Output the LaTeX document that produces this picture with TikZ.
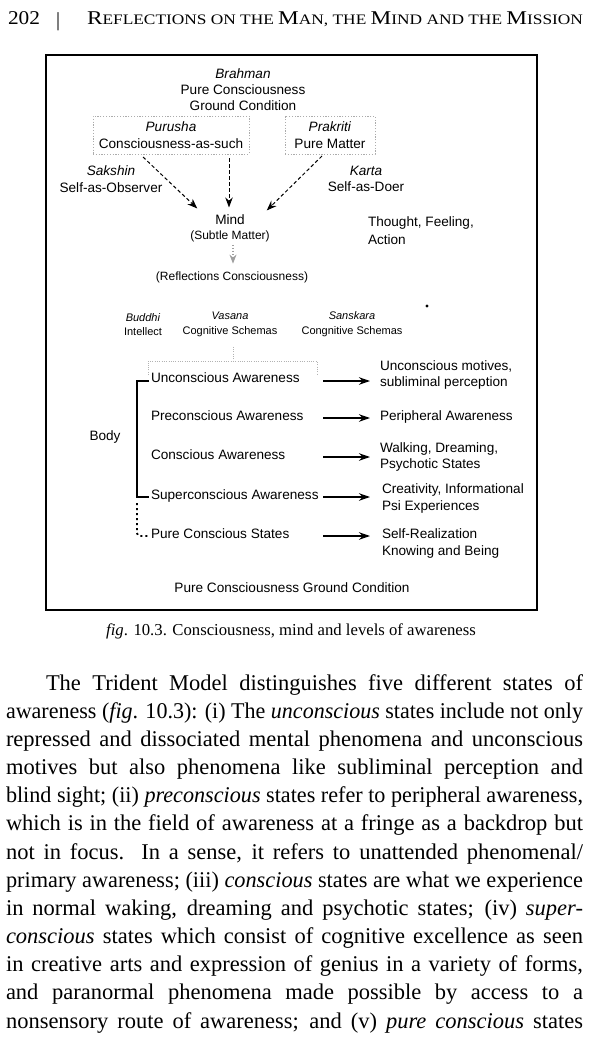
\documentclass[tikz,border=0pt]{standalone}
\usepackage{fontspec}
\usepackage{graphicx}
\setmainfont{Liberation Serif}
\setsansfont{Liberation Sans}
\usetikzlibrary{arrows.meta,calc}
\newcommand\jline[2]{\sbox0{#2}\ifdim\wd0>#1\relax\resizebox{#1}{\ht0}{\usebox0}\else\makebox[#1][s]{#2}\fi}
\newcommand\hdcap[1]{{\fontsize{19.5}{20}\selectfont #1}}
\begin{document}
\begin{tikzpicture}[x=1pt,y=-1pt,
  every node/.style={inner sep=0pt, outer sep=0pt},
  dg/.style={font=\sffamily\fontsize{13.6}{16.3}\selectfont},
  dgs/.style={font=\sffamily\fontsize{12}{14}\selectfont},
  dgt/.style={font=\sffamily\fontsize{11}{14.8}\selectfont},
  dbox/.style={draw=gray!65, dash pattern=on 1.2pt off 1.6pt, line width=0.9pt, minimum height=38pt, align=center},
  darr/.style={dash pattern=on 3.5pt off 2.5pt, line width=1pt, -{Stealth[length=10pt,width=7.5pt]}},
  rarr/.style={line width=1.3pt, -{Stealth[length=11pt,width=7.5pt]}},
  bodyline/.style={font=\fontsize{22.5}{28}\selectfont, anchor=base west},
]
\useasboundingbox (0,0) rectangle (600,1044);
\fill[white] (0,0) rectangle (600,1044);

% header
\node[anchor=base west, font=\fontsize{19.5}{22}\selectfont] (pno) at (8,24) {\resizebox{32pt}{\height}{202}};
\node[anchor=base west, font=\fontsize{20}{22}\selectfont] (bar) at (56,26) {|};
\node[anchor=base west, font=\fontsize{14.5}{18}\selectfont] (title) at (87,24)
  {\resizebox{496pt}{\height}{\hdcap{R}EFLECTIONS ON THE \hdcap{M}AN, THE \hdcap{M}IND AND THE \hdcap{M}ISSION}};

% frame
\node[draw, line width=2pt, minimum width=491pt, minimum height=555pt] (frame) at (291.5,332.5) {};

% top block
\node[dg, align=center] (brahman) at (243,89.5) {\textit{Brahman}\\Pure Consciousness\\Ground Condition};
\node[dg, dbox, minimum width=156pt] (purusha) at (171,135) {\textit{Purusha}\\Consciousness-as-such};
\node[dg, dbox, minimum width=90pt] (prakriti) at (330,135) {\textit{Prakriti}\\Pure Matter};
\node[dg, align=center] (sakshin) at (111,179) {\textit{Sakshin}\\Self-as-Observer};
\node[dg, align=center] (karta) at (366,179) {\textit{Karta}\\Self-as-Doer};
\node[dg, anchor=mid] (mind) at (230,222) {Mind};
\node[dgs, anchor=mid] (subtle) at (230,237) {(Subtle Matter)};
\node[dg, align=left, anchor=west] (tfa) at (368,231) {Thought, Feeling,\\[1.5pt]Action};
\node[dgs, anchor=mid] (refl) at (232,278) {(Reflections Consciousness)};
\fill (427,306) circle (1.7pt);

\draw[darr] ($(purusha.south west)+(50,3)$) -- ($(mind.north west)+(-18,-6)$);
\draw[darr] ($(purusha.south east)+(-20,4)$) -- ($(mind.north)+(-1,-7)$);
\draw[darr] ($(prakriti.south west)+(37,2)$) -- ($(mind.north east)+(22,-4)$);
\draw[gray!75, line width=1.1pt, dash pattern=on 1pt off 2pt, -{Stealth[length=9pt,width=7pt]}] ($(subtle.south)+(3,3)$) -- ($(refl.north)+(1,-8)$);

% schemas row
\node[dgt, align=center] (buddhi) at (143,324.5) {\textit{Buddhi}\\Intellect};
\node[dgt, align=center] (vasana) at (230,324.5) {\textit{Vasana}\\Cognitive Schemas};
\node[dgt, align=center] (sanskara) at (352,324.5) {\textit{Sanskara}\\Congnitive Schemas};
\coordinate (brk) at (233,361);
\draw[gray!60, line width=0.8pt, dash pattern=on 1pt off 1.3pt] ($(vasana.south)+(3,10)$) -- (brk);
\draw[gray!60, line width=0.8pt, dash pattern=on 1pt off 1.3pt] (148,375) |- (brk) -| (317,375);

% levels
\node[dg, anchor=mid west] (ua) at (151,380) {Unconscious Awareness};
\node[dg, anchor=mid west] (pa) at (151,418) {Preconscious Awareness};
\node[dg, anchor=mid west] (ca) at (151,457) {Conscious Awareness};
\node[dg, anchor=mid west] (sa) at (151,497) {Superconscious Awareness};
\node[dg, anchor=mid west] (pcs) at (151,536) {Pure Conscious States};
\node[dg, anchor=mid] (body) at (105,438) {Body};

\draw[line width=1.8pt] ($(ua.mid west)+(-2,1)$) -| ($(sa.mid west)+(-14,0)$) -- ($(sa.mid west)+(-2,0)$);
\draw[line width=1.8pt, dash pattern=on 2pt off 3pt, rounded corners=3pt] ($(sa.mid west)+(-14,6)$) |- ($(pcs.mid west)+(-3,0)$);

\node[dg, align=left, anchor=west] (r1) at (380,375) {Unconscious motives,\\subliminal perception};
\node[dg, anchor=mid west] (r2) at (380,418) {Peripheral Awareness};
\node[dg, align=left, anchor=west] (r3) at (380,457) {Walking, Dreaming,\\Psychotic States};
\node[dg, align=left, anchor=west] (r4) at (382,498.5) {Creativity, Informational\\Psi Experiences};
\node[dg, align=left, anchor=west] (r5) at (382,543.5) {Self-Realization\\Knowing and Being};

\coordinate (colA) at (323,0);
\coordinate (colB) at (370,0);
\draw[rarr] ($(ua.mid west -| colA)+(0,1)$) -- ($(ua.mid west -| colB)+(0,1)$);
\draw[rarr] (pa.mid west -| colA) -- (pa.mid west -| colB);
\draw[rarr] (ca.mid west -| colA) -- (ca.mid west -| colB);
\draw[rarr] (sa.mid west -| colA) -- (sa.mid west -| colB);
\draw[rarr] (pcs.mid west -| colA) -- (pcs.mid west -| colB);

\node[dg, anchor=mid] (ground) at (292,590) {Pure Consciousness Ground Condition};

% caption
\node[anchor=mid, font=\fontsize{16.7}{20}\selectfont] (caption) at (291,633) {\textit{fig}. 10.3. Consciousness, mind and levels of awareness};

% body text
\node[bodyline] (l1) at (46,690) {\jline{537pt}{The Trident Model distinguishes five different states of}};
\node[bodyline] (l2) at (6,718.2) {\jline{577pt}{awareness (\textit{fig}. 10.3): (i) The \textit{unconscious} states include not only}};
\node[bodyline] (l3) at (6,746.3) {\jline{577pt}{repressed and dissociated mental phenomena and unconscious}};
\node[bodyline] (l4) at (6,774.5) {\jline{577pt}{motives but also phenomena like subliminal perception and}};
\node[bodyline] (l5) at (6,802.7) {\jline{577pt}{blind sight; (ii) \textit{preconscious} states refer to peripheral awareness,}};
\node[bodyline] (l6) at (6,830.9) {\jline{577pt}{which is in the field of awareness at a fringe as a backdrop but}};
\node[bodyline] (l7) at (6,859.0) {\jline{577pt}{not in focus. In a sense, it refers to unattended phenomenal/}};
\node[bodyline] (l8) at (6,887.2) {\jline{577pt}{primary awareness; (iii) \textit{conscious} states are what we experience}};
\node[bodyline] (l9) at (6,915.4) {\jline{577pt}{in normal waking, dreaming and psychotic states; (iv) \textit{super-}}};
\node[bodyline] (l10) at (6,943.5) {\jline{577pt}{\textit{conscious} states which consist of cognitive excellence as seen}};
\node[bodyline] (l11) at (6,971.7) {\jline{577pt}{in creative arts and expression of genius in a variety of forms,}};
\node[bodyline] (l12) at (6,999.9) {\jline{577pt}{and paranormal phenomena made possible by access to a}};
\node[bodyline] (l13) at (6,1028.0) {\jline{577pt}{nonsensory route of awareness; and (v) \textit{pure conscious} states}};
\end{tikzpicture}
\end{document}
